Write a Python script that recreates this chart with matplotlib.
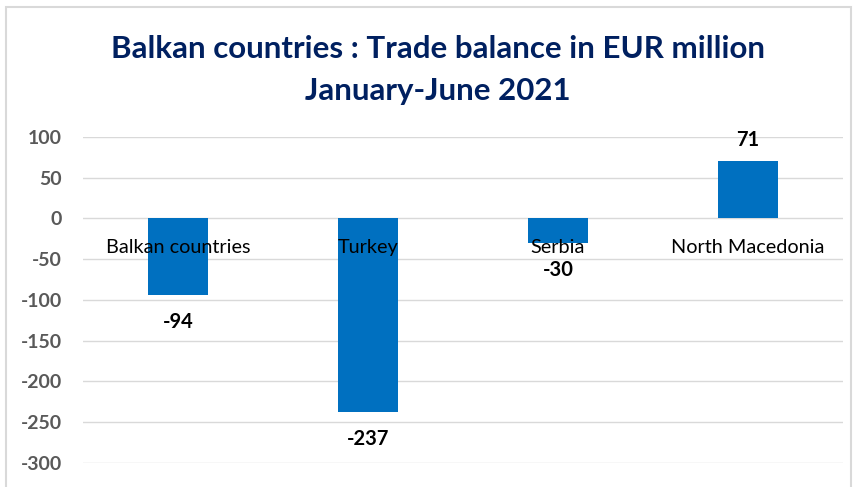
import matplotlib.pyplot as plt
from matplotlib.patches import Rectangle

# trade balance, Jan-Jun 2021 (EUR million)
countries = ["Balkan countries", "Turkey", "Serbia", "North Macedonia"]
balance = [-94, -237, -30, 71]
yticks = [-300, -250, -200, -150, -100, -50, 0, 50, 100]

BAR_COLOR = "#0070C0"
TITLE_COLOR = "#002060"

plt.rcParams["font.family"] = ["Lato", "DejaVu Sans"]

fig = plt.figure(figsize=(8.57, 4.87), dpi=100)
ax = fig.add_axes([0.0969, 0.0493, 0.8868, 0.6694])

xs = list(range(len(countries)))
bars = ax.bar(xs, balance, width=0.315, color=BAR_COLOR, zorder=3)

ax.set_xlim(-0.5, len(countries) - 0.5)
ax.set_ylim(-300, 100)
ax.set_yticks(yticks)
ax.set_yticklabels([str(t) for t in yticks], fontsize=14, fontweight="bold", color="#595959")
ax.tick_params(axis="y", length=0, pad=15)
ax.set_xticks([])
ax.grid(axis="y", color="#d9d9d9", linewidth=1, zorder=0)
for s in ax.spines.values():
    s.set_visible(False)

# category names sit just under the zero line
for x, name in zip(xs, countries):
    ax.text(x, -35, name, ha="center", va="center", fontsize=14.3, color="black", zorder=5)

# value labels at the bar ends
for x, v in zip(xs, balance):
    off = 15 if v > 0 else -19.5
    ax.annotate(str(v), (x, v), xytext=(0, off), textcoords="offset points",
                ha="center", va="center", fontsize=14.5, fontweight="bold", color="black")

fig.text(0.511, 0.900, "Balkan countries : Trade balance in EUR million",
         ha="center", va="center", fontsize=22.5, fontweight="bold", color=TITLE_COLOR)
fig.text(0.511, 0.813, "January-June 2021",
         ha="center", va="center", fontsize=22.5, fontweight="bold", color=TITLE_COLOR)

# chart frame
fig.patches.append(Rectangle((0.007, -0.01), 0.986, 0.995, transform=fig.transFigure,
                             fill=False, edgecolor="#d9d9d9", linewidth=1.5))

fig.savefig("out.png", dpi=100)
